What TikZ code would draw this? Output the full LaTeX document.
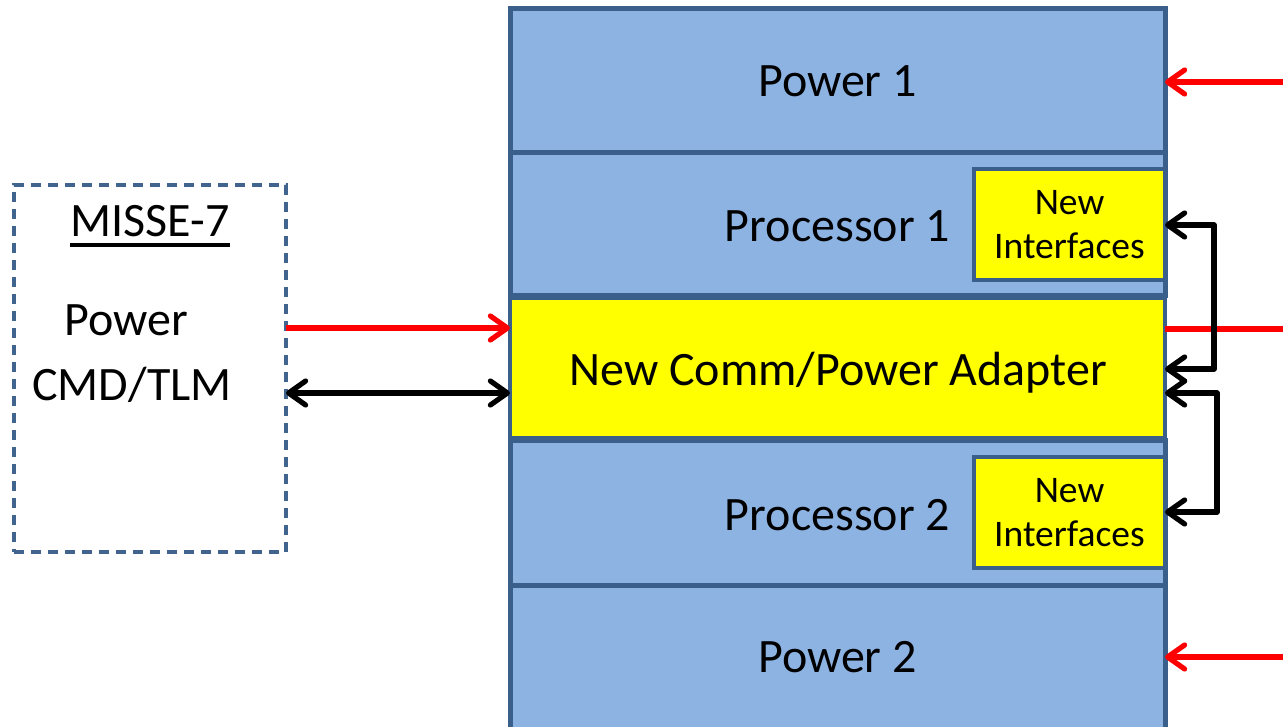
\documentclass[tikz,border=0pt]{standalone}
\usepackage{fontspec}
\setmainfont{Carlito}
\usetikzlibrary{arrows.meta}
\definecolor{slotfill}{HTML}{8DB3E2}
\definecolor{slotedge}{HTML}{3A5F8B}
\definecolor{hiyellow}{HTML}{FFFF00}
\definecolor{dashedge}{HTML}{41648F}
\tikzset{
  slot/.style={rectangle, draw=slotedge, line width=5pt, fill=slotfill,
    anchor=north west, outer sep=0pt, inner sep=0pt, minimum width=655pt},
  adapt/.style={slot, fill=hiyellow, line width=4.5pt},
  iface/.style={rectangle, draw=slotedge, line width=4.5pt, fill=hiyellow,
    anchor=north west, outer sep=0pt, inner sep=0pt,
    minimum width=191pt, minimum height=111pt, align=center,
    font=\fontsize{37.5}{44}\selectfont},
  extbox/.style={rectangle, draw=dashedge, line width=3.3pt,
    dash pattern=on 10pt off 7pt, anchor=north west, outer sep=0pt,
    inner sep=0pt, minimum width=272pt, minimum height=367pt},
  lbl/.style={anchor=base, inner sep=0pt, outer sep=0pt,
    font=\fontsize{48}{58}\selectfont},
  pwr/.style={draw=red, line width=5.2pt},
  sig/.style={draw=black, line width=5.2pt},
}
\begin{document}
\begin{tikzpicture}[x=1pt, y=-1pt,
  >={Straight Barb[length=17pt,width=24pt,round]}]
\useasboundingbox (0,0) rectangle (1283,727);

% stacked module
\node[slot, minimum height=144pt] (power1) at (510,9) {};
\node[slot, minimum height=143pt] (proc1) at (510,153) {};
\node[slot, minimum height=145pt] (proc2) at (510,440) {};
\node[slot, minimum height=144pt] (power2) at (510,585) {};
\node[adapt, minimum height=140pt] (adapter) at (510,298) {};

\node[iface] (ni1) at (974,169) {New\\Interfaces};
\node[iface] (ni2) at (974,457) {New\\Interfaces};

\node[lbl] (power1-t) at (837.5,97) {Power 1};
\node[lbl] (proc1-t) at (837.5,242) {Processor 1};
\node[lbl] (adapter-t) at (838,385) {New Comm/Power Adapter};
\node[lbl] (proc2-t) at (837.5,530) {Processor 2};
\node[lbl] (power2-t) at (837.5,672) {Power 2};

% external unit
\node[extbox] (misse) at (14,185) {};
\node[lbl] (misse-t) at (150,237) {MISSE-7};
\draw[line width=3.3pt] ([yshift=-8pt]misse-t.base west) -- ([yshift=-8pt]misse-t.base east);
\node[lbl] (misse-pwr) at (126,336) {Power};
\node[lbl] (misse-cmd) at (132,400) {CMD/TLM};

% links to the external unit
\draw[pwr, ->] (misse.east |- 0,328) -- (adapter.west |- 0,328);
\draw[sig, <->] (misse.east |- 0,393) -- (adapter.west |- 0,393);

% outside power feeds
\coordinate (feed1) at (1283,82);
\coordinate (feed2) at (1283,657);
\coordinate (feedA) at (1283,329);
\draw[pwr, ->] (feed1) -- (power1.east |- feed1);
\draw[pwr, ->] (feed2) -- (power2.east |- feed2);
\draw[pwr] (adapter.east |- feedA) -- (feedA);

% interface links
\coordinate (b1top) at (1214,225);
\coordinate (b1bot) at (1214,369);
\coordinate (b2top) at (1217,393);
\coordinate (b2bot) at (1217,512);
\draw[sig, <->, line join=round] (ni1.east |- b1top) -- (b1top) -- (b1bot) -- (adapter.east |- b1bot);
\draw[sig, <->, line join=round] (adapter.east |- b2top) -- (b2top) -- (b2bot) -- (ni2.east |- b2bot);
\end{tikzpicture}
\end{document}
